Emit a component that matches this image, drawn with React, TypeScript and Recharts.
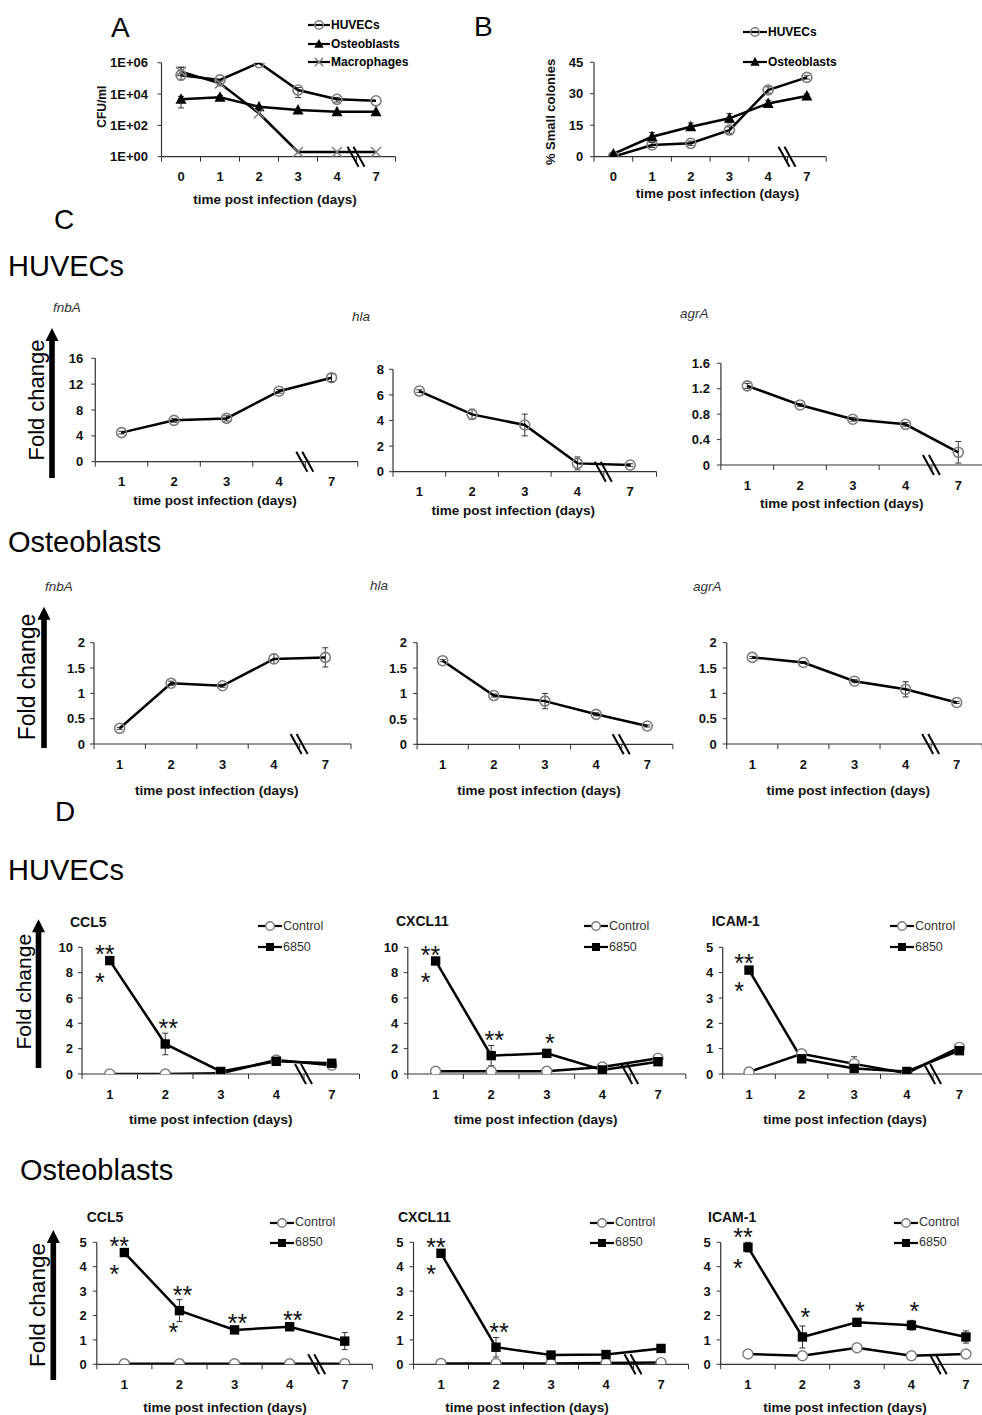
import React from 'react';
import { LineChart, Line, XAxis, YAxis, ErrorBar, Legend, LabelList } from 'recharts';

const FONT = '"Liberation Sans", Arial, Helvetica, sans-serif';
const AXIS = '#333';

// ---------------- categories ----------------
const daysAB = ['0', '1', '2', '3', '4', '7'];
const days = ['1', '2', '3', '4', '7'];

// ---------------- Panel A : CFU/ml (log) ----------------
const aHuvecs = [160000, 80000, 1000000, 18000, 4600, 3700];
const aHuvecsErr = [[80000, 350000], 0, 0, [12000, 8000], [1500, 1500], 0];
const aOsteo = [4600, 6200, 1550, 950, 750, 750];
const aOsteoErr = [[3300, 2500], [2000, 2000], 0, 0, 0, 0];
const aMacro = [270000, 48000, 590, 2, 2, 2];
const aMacroErr = [[120000, 250000], [15000, 20000], 0, 0, 0, 0];
const aTicks = [1, 100, 10000, 1000000];

// ---------------- Panel B : % small colonies ----------------
const bHuvecs = [0, 5.6, 6.4, 12.7, 31.8, 37.8];
const bHuvecsErr = [0, 1.2, 1, 1.5, 1.5, 0.8];
const bOsteo = [1.3, 9.5, 14.3, 18.3, 25.4, 28.9];
const bOsteoErr = [0.5, 2, 1.8, 2.2, 1.5, 1];
const bTicks = [0, 15, 30, 45];

// ---------------- Panel C : HUVECs ----------------
const cHuvFnbA = [4.5, 6.4, 6.7, 10.9, 13.0];
const cHuvFnbAErr = [0.2, 0.3, 0.4, 0.3, 0.6];
const cHuvHla = [6.3, 4.48, 3.65, 0.65, 0.52];
const cHuvHlaErr = [0.1, 0.4, 0.85, 0.5, 0.1];
const cHuvAgrA = [1.245, 0.945, 0.72, 0.64, 0.2];
const cHuvAgrAErr = [0.04, 0.02, 0.03, 0.03, 0.17];

// ---------------- Panel C : Osteoblasts ----------------
const cOstFnbA = [0.31, 1.2, 1.15, 1.68, 1.71];
const cOstFnbAErr = [0.02, 0.04, 0.03, 0.09, 0.19];
const cOstHla = [1.646, 0.96, 0.85, 0.59, 0.36];
const cOstHlaErr = [0.02, 0.03, 0.15, 0.03, 0.02];
const cOstAgrA = [1.71, 1.61, 1.24, 1.08, 0.82];
const cOstAgrAErr = [0.02, 0.02, 0.03, 0.15, 0.02];

// ---------------- Panel D : HUVECs ----------------
const dHuvCcl5Ctrl = [0, 0, 0.05, 1.1, 0.7];
const dHuvCcl5 = [8.95, 2.37, 0.2, 1.0, 0.85];
const dHuvCcl5Err = [0.1, 0.85, 0.1, 0.2, 0.1];
const dHuvCxcl11Ctrl = [0.22, 0.22, 0.22, 0.55, 1.25];
const dHuvCxcl11 = [8.92, 1.45, 1.63, 0.32, 0.97];
const dHuvCxcl11Err = [0.1, 0.8, 0.1, 0.1, 0.15];
const dHuvIcamCtrl = [0.08, 0.8, 0.4, 0.03, 1.05];
const dHuvIcamCtrlErr = [0, 0, 0.28, 0, 0];
const dHuvIcam = [4.1, 0.6, 0.22, 0.1, 0.92];
const dHuvIcamErr = [0.1, 0.1, 0.1, 0.05, 0.1];

// ---------------- Panel D : Osteoblasts ----------------
const dOstCcl5Ctrl = [0.02, 0.02, 0.02, 0.02, 0.02];
const dOstCcl5 = [4.58, 2.2, 1.41, 1.54, 0.95];
const dOstCcl5Err = [0.05, 0.45, 0.08, 0.08, 0.35];
const dOstCxcl11Ctrl = [0.03, 0.03, 0.03, 0.05, 0.07];
const dOstCxcl11 = [4.55, 0.7, 0.38, 0.4, 0.65];
const dOstCxcl11Err = [0.05, 0.4, 0.05, 0.05, 0.08];
const dOstIcamCtrl = [0.42, 0.35, 0.68, 0.35, 0.42];
const dOstIcam = [4.8, 1.12, 1.72, 1.6, 1.12];
const dOstIcamErr = [0.2, 0.45, 0.1, 0.2, 0.25];

// significance marks
const starsHuvCcl5Above = ['**', '**', '', '', ''];
const starsHuvCcl5Below = ['*', '', '', '', ''];
const starsHuvCxcl11Above = ['**', '**', '*', '', ''];
const starsHuvCxcl11Below = ['*', '', '', '', ''];
const starsHuvIcamAbove = ['**', '', '', '', ''];
const starsHuvIcamBelow = ['*', '', '', '', ''];
const starsOstCcl5Above = ['**', '**', '**', '**', ''];
const starsOstCcl5Below = ['*', '*', '', '', ''];
const starsOstCxcl11Above = ['**', '**', '', '', ''];
const starsOstCxcl11Below = ['*', '', '', '', ''];
const starsOstIcamAbove = ['**', '*', '*', '*', ''];
const starsOstIcamBelow = ['*', '', '', '', ''];

const ticks16 = [0, 4, 8, 12, 16];
const ticks8 = [0, 2, 4, 6, 8];
const ticks16b = [0, 0.4, 0.8, 1.2, 1.6];
const ticks2 = [0, 0.5, 1, 1.5, 2];
const ticks10 = [0, 2, 4, 6, 8, 10];
const ticks5 = [0, 1, 2, 3, 4, 5];

function rows(cats: string[], cols: Record<string, any[]>) {
  return cats.map((c, i) => {
    const r: any = { day: c };
    for (const k of Object.keys(cols)) r[k] = cols[k][i];
    return r;
  });
}

type MarkerKind = 'circle' | 'circleW' | 'triangle' | 'square' | 'cross';

function Marker({ kind, cx, cy, s = 1 }: { kind: MarkerKind; cx: number; cy: number; s?: number }) {
  if (cx == null || cy == null || isNaN(cx) || isNaN(cy)) return null;
  switch (kind) {
    case 'circle':
      return <circle cx={cx} cy={cy} r={5 * s} fill="none" stroke="#7c7c7c" strokeWidth={1.6} />;
    case 'circleW':
      return <circle cx={cx} cy={cy} r={5 * s} fill="#fff" stroke="#7c7c7c" strokeWidth={1.4} />;
    case 'triangle':
      return (
        <path
          d={`M${cx},${cy - 6 * s} L${cx + 5.5 * s},${cy + 4.5 * s} L${cx - 5.5 * s},${cy + 4.5 * s} Z`}
          fill="#000"
        />
      );
    case 'square':
      return <rect x={cx - 4.7 * s} y={cy - 4.7 * s} width={9.4 * s} height={9.4 * s} fill="#000" />;
    case 'cross':
      return (
        <g stroke="#7c7c7c" strokeWidth={1.5}>
          <line x1={cx - 5 * s} y1={cy - 5 * s} x2={cx + 5 * s} y2={cy + 5 * s} />
          <line x1={cx - 5 * s} y1={cy + 5 * s} x2={cx + 5 * s} y2={cy - 5 * s} />
        </g>
      );
  }
  return null;
}

type SeriesCfg = { key: string; err?: string; name: string; marker: MarkerKind; width?: number };

type PanelProps = {
  box: { x: number; y: number; w: number; h: number };
  px: number;
  py: number;
  band: number;
  ph: number;
  cats: string[];
  data: any[];
  series: SeriesCfg[];
  yDomain: [number, number];
  yTicks: number[];
  yLog?: boolean;
  yFmt?: (v: number) => string;
  tickGap: number;
  xLabel: { x: number; y: number };
  breakIdx: number;
  title?: { text: string; x: number; y: number; size: number; italic?: boolean; bold?: boolean };
  yLabel?: { text: string; x: number; y: number; size: number };
  fold?: { ax: number; top: number; bottom: number; tx: number; ty: number; size: number };
  legend?: { x: number; y: number; gap: number; bold: boolean; size: number; lineW: number; color: string };
  stars?: { key: string; err: string; above: string[]; below: string[] };
};

function Panel(p: PanelProps) {
  const { box, px, py, band, ph, cats } = p;
  const n = cats.length;
  const yAxisW = px - box.x;
  const top = py - box.y;
  const xAxisH = box.y + box.h - (py + ph);
  const right = box.x + box.w - (px + n * band);
  const X = (v: number) => v - box.x;
  const Y = (v: number) => v - box.y;
  const ppu = ph / (p.yDomain[1] - p.yDomain[0]);

  const xTick = (t: any) => {
    const { x, y, payload, index } = t;
    const isLast = index === n - 1 || (payload && payload.value === cats[n - 1]);
    return (
      <g>
        <line x1={x - band / 2} x2={x - band / 2} y1={y} y2={y + 5} stroke={AXIS} strokeWidth={1} />
        {isLast ? <line x1={x + band / 2} x2={x + band / 2} y1={y} y2={y + 5} stroke={AXIS} strokeWidth={1} /> : null}
        <text
          x={x}
          y={y + 20}
          textAnchor="middle"
          dominantBaseline="central"
          fontFamily={FONT}
          fontSize={13}
          fontWeight="bold"
          fill="#111"
        >
          {payload.value}
        </text>
      </g>
    );
  };

  const bx = X(px + p.breakIdx * band);
  const by = Y(py + ph);

  const xDeco = () => (
    <g>
      <text
        x={X(p.xLabel.x)}
        y={Y(p.xLabel.y)}
        textAnchor="middle"
        dominantBaseline="central"
        fontFamily={FONT}
        fontSize={13.5}
        fontWeight="bold"
        fill="#111"
      >
        time post infection (days)
      </text>
      <g stroke="#000" strokeWidth={2}>
        <line x1={bx - 9} y1={by - 10} x2={bx + 2} y2={by + 10} />
        <line x1={bx - 3} y1={by - 10} x2={bx + 8} y2={by + 10} />
      </g>
    </g>
  );

  const yDeco = () => (
    <g>
      {p.title ? (
        <text
          x={X(p.title.x)}
          y={Y(p.title.y)}
          dominantBaseline="central"
          fontFamily={FONT}
          fontSize={p.title.size}
          fontStyle={p.title.italic ? 'italic' : 'normal'}
          fontWeight={p.title.bold ? 'bold' : 'normal'}
          fill={p.title.italic ? '#333' : '#111'}
        >
          {p.title.text}
        </text>
      ) : null}
      {p.yLabel ? (
        <text
          transform={`translate(${X(p.yLabel.x)},${Y(p.yLabel.y)}) rotate(-90)`}
          textAnchor="middle"
          dominantBaseline="central"
          fontFamily={FONT}
          fontSize={p.yLabel.size}
          fontWeight="bold"
          fill="#111"
        >
          {p.yLabel.text}
        </text>
      ) : null}
      {p.fold ? (
        <g>
          <rect
            x={X(p.fold.ax) - 2.8}
            y={Y(p.fold.top) + 10}
            width={5.6}
            height={p.fold.bottom - p.fold.top - 10}
            fill="#000"
          />
          <path
            d={`M${X(p.fold.ax)},${Y(p.fold.top)} L${X(p.fold.ax) + 6.5},${Y(p.fold.top) + 13} L${X(p.fold.ax) - 6.5},${Y(p.fold.top) + 13} Z`}
            fill="#000"
          />
          <text
            transform={`translate(${X(p.fold.tx)},${Y(p.fold.ty)}) rotate(-90)`}
            textAnchor="middle"
            dominantBaseline="central"
            fontFamily={FONT}
            fontSize={p.fold.size}
            fill="#000"
          >
            Fold change
          </text>
        </g>
      ) : null}
    </g>
  );

  const lg = p.legend;
  const legendContent = () =>
    lg ? (
      <div
        style={{
          fontFamily: FONT,
          fontSize: lg.size,
          fontWeight: lg.bold ? 'bold' : 'normal',
          color: lg.color,
        }}
      >
        {p.series.map((s) => (
          <div
            key={s.key}
            style={{ display: 'flex', alignItems: 'center', height: lg.gap, whiteSpace: 'nowrap', lineHeight: 1 }}
          >
            <svg width={lg.lineW} height={14} style={{ display: 'block' }}>
              <line x1={0} x2={lg.lineW} y1={7} y2={7} stroke="#000" strokeWidth={2.2} />
              <Marker kind={s.marker} cx={lg.lineW / 2} cy={7} s={0.85} />
            </svg>
            <span style={{ marginLeft: 1 }}>{s.name}</span>
          </div>
        ))}
      </div>
    ) : null;

  const starContent = (lp: any) => {
    const st = p.stars!;
    const i = lp.index;
    const cx = lp.x;
    const cy = lp.y;
    if (cx == null || cy == null) return null;
    const a = st.above[i];
    const b = st.below[i];
    const err = (p.data[i] && p.data[i][st.err]) || 0;
    const els: any[] = [];
    if (a) {
      const dx = i === 0 ? -5 : 3;
      const cyA = cy - err * ppu - (a.length > 1 ? 10 : 14);
      els.push(
        <text
          key="a"
          x={cx + dx}
          y={cyA + 14}
          textAnchor="middle"
          fontFamily={FONT}
          fontSize={25}
          fill="#111"
        >
          {a}
        </text>
      );
    }
    if (b) {
      const dx = i === 0 ? -10 : -6;
      els.push(
        <text
          key="b"
          x={cx + dx}
          y={cy + 16 + 14}
          textAnchor="middle"
          fontFamily={FONT}
          fontSize={25}
          fill="#111"
        >
          {b}
        </text>
      );
    }
    return <g key={`st-${i}`}>{els}</g>;
  };

  return (
    <div style={{ position: 'absolute', left: box.x, top: box.y, width: box.w, height: box.h }}>
      <LineChart
        width={box.w}
        height={box.h}
        data={p.data}
        margin={{ top, right, bottom: 0, left: 0 }}
        style={{ fontFamily: FONT }}
      >
        <XAxis
          dataKey="day"
          type="category"
          scale="point"
          padding={{ left: band / 2, right: band / 2 }}
          height={xAxisH}
          interval={0}
          tickLine={false}
          tickSize={0}
          tickMargin={0}
          tick={xTick}
          axisLine={{ stroke: AXIS, strokeWidth: 1.2 }}
          label={xDeco}
        />
        <YAxis
          type="number"
          scale={p.yLog ? 'log' : 'linear'}
          domain={p.yDomain}
          ticks={p.yTicks}
          interval={0}
          allowDataOverflow
          width={yAxisW}
          tickSize={4}
          tickMargin={p.tickGap}
          tickFormatter={p.yFmt}
          tick={{ fill: '#111', fontSize: 13, fontWeight: 'bold', fontFamily: FONT }}
          tickLine={{ stroke: AXIS, strokeWidth: 1 }}
          axisLine={{ stroke: AXIS, strokeWidth: 1.2 }}
          label={yDeco}
        />
        {lg ? (
          <Legend
            layout="vertical"
            align="center"
            verticalAlign="middle"
            content={legendContent}
            wrapperStyle={{ left: X(lg.x), top: Y(lg.y) - lg.gap / 2, width: 'auto', margin: 0, padding: 0 }}
          />
        ) : null}
        {p.series.map((s) => (
          <Line
            key={s.key}
            dataKey={s.key}
            name={s.name}
            type="linear"
            stroke="#000"
            strokeWidth={s.width ?? 2.5}
            isAnimationActive={false}
            activeDot={false}
            dot={(d: any) => <Marker key={`${s.key}-${d.index}`} kind={s.marker} cx={d.cx} cy={d.cy} />}
          >
            {s.err ? <ErrorBar dataKey={s.err} width={3} strokeWidth={1} stroke="#333" direction="y" /> : null}
            {p.stars && p.stars.key === s.key ? <LabelList dataKey={s.key} content={starContent} /> : null}
          </Line>
        ))}
      </LineChart>
    </div>
  );
}

const logFmt = (v: number) => {
  const e = Math.round(Math.log10(v));
  return `1E+${String(e).padStart(2, '0')}`;
};

const cSeries: SeriesCfg[] = [{ key: 'v', err: 'e', name: 'value', marker: 'circle' }];
const dSeries: SeriesCfg[] = [
  { key: 'ctrl', err: 'ce', name: 'Control', marker: 'circleW' },
  { key: 'inf', err: 'ie', name: '6850', marker: 'square' },
];

const headers = [
  { t: 'A', x: 111, y: 36.5, s: 28 },
  { t: 'B', x: 474, y: 35.5, s: 28 },
  { t: 'C', x: 54, y: 229, s: 28 },
  { t: 'HUVECs', x: 8, y: 276, s: 29 },
  { t: 'Osteoblasts', x: 8, y: 552, s: 29 },
  { t: 'D', x: 55, y: 821, s: 28 },
  { t: 'HUVECs', x: 8, y: 880, s: 29 },
  { t: 'Osteoblasts', x: 20, y: 1180, s: 29 },
];

const dLegend = (x: number, y: number) => ({ x, y, gap: 21, bold: false, size: 12.5, lineW: 24, color: '#333' });

export default function App() {
  const aData = rows(daysAB, {
    h: aHuvecs,
    he: aHuvecsErr,
    o: aOsteo,
    oe: aOsteoErr,
    m: aMacro,
    me: aMacroErr,
  });
  const bData = rows(daysAB, { h: bHuvecs, he: bHuvecsErr, o: bOsteo, oe: bOsteoErr });

  return (
    <div
      style={{
        position: 'absolute',
        left: 0,
        top: 0,
        width: 982,
        height: 1415,
        overflow: 'hidden',
        background: '#fff',
        fontFamily: FONT,
      }}
    >
      <svg width={982} height={1415} style={{ position: 'absolute', left: 0, top: 0 }}>
        {headers.map((h, i) => (
          <text key={i} x={h.x} y={h.y} fontFamily={FONT} fontSize={h.s} fill="#000">
            {h.t}
          </text>
        ))}
      </svg>

      {/* Panel A */}
      <Panel
        box={{ x: 85, y: 8, w: 345, h: 205 }}
        px={161.5}
        py={62.7}
        band={39}
        ph={94}
        cats={daysAB}
        data={aData}
        series={[
          { key: 'h', err: 'he', name: 'HUVECs', marker: 'circle' },
          { key: 'o', err: 'oe', name: 'Osteoblasts', marker: 'triangle' },
          { key: 'm', err: 'me', name: 'Macrophages', marker: 'cross' },
        ]}
        yDomain={[1, 1000000]}
        yTicks={aTicks}
        yLog
        yFmt={logFmt}
        tickGap={9.5}
        xLabel={{ x: 275, y: 199 }}
        breakIdx={5}
        yLabel={{ text: 'CFU/ml', x: 101.7, y: 106.7, size: 12 }}
        legend={{ x: 308, y: 25, gap: 18.5, bold: true, size: 12, lineW: 22, color: '#000' }}
      />

      {/* Panel B */}
      <Panel
        box={{ x: 530, y: 8, w: 320, h: 205 }}
        px={594}
        py={62.3}
        band={38.7}
        ph={94.4}
        cats={daysAB}
        data={bData}
        series={[
          { key: 'h', err: 'he', name: 'HUVECs', marker: 'circle' },
          { key: 'o', err: 'oe', name: 'Osteoblasts', marker: 'triangle' },
        ]}
        yDomain={[0, 45]}
        yTicks={bTicks}
        tickGap={6.7}
        xLabel={{ x: 717.5, y: 193.3 }}
        breakIdx={5}
        yLabel={{ text: '% Small colonies', x: 550, y: 112, size: 13 }}
        legend={{ x: 743, y: 32.3, gap: 29.4, bold: true, size: 12, lineW: 24, color: '#000' }}
      />

      {/* Panel C HUVECs */}
      <Panel
        box={{ x: 2, y: 295, w: 363, h: 225 }}
        px={95.3}
        py={358.3}
        band={52.5}
        ph={103.4}
        cats={days}
        data={rows(days, { v: cHuvFnbA, e: cHuvFnbAErr })}
        series={cSeries}
        yDomain={[0, 16]}
        yTicks={ticks16}
        tickGap={8}
        xLabel={{ x: 215, y: 500 }}
        breakIdx={4}
        title={{ text: 'fnbA', x: 53, y: 307.5, size: 13.5, italic: true }}
        fold={{ ax: 52, top: 328, bottom: 478, tx: 36, ty: 400, size: 22 }}
      />
      <Panel
        box={{ x: 345, y: 300, w: 320, h: 225 }}
        px={393}
        py={369.3}
        band={52.7}
        ph={102.4}
        cats={days}
        data={rows(days, { v: cHuvHla, e: cHuvHlaErr })}
        series={cSeries}
        yDomain={[0, 8]}
        yTicks={ticks8}
        tickGap={5}
        xLabel={{ x: 513.3, y: 510 }}
        breakIdx={4}
        title={{ text: 'hla', x: 352, y: 316.7, size: 13.5, italic: true }}
      />
      <Panel
        box={{ x: 670, y: 300, w: 316, h: 220 }}
        px={720.9}
        py={363.3}
        band={52.75}
        ph={101.7}
        cats={days}
        data={rows(days, { v: cHuvAgrA, e: cHuvAgrAErr })}
        series={cSeries}
        yDomain={[0, 1.6]}
        yTicks={ticks16b}
        tickGap={7}
        xLabel={{ x: 841.7, y: 503.3 }}
        breakIdx={4}
        title={{ text: 'agrA', x: 680, y: 313, size: 13.5, italic: true }}
      />

      {/* Panel C Osteoblasts */}
      <Panel
        box={{ x: 2, y: 575, w: 360, h: 230 }}
        px={94}
        py={642.7}
        band={51.4}
        ph={101.3}
        cats={days}
        data={rows(days, { v: cOstFnbA, e: cOstFnbAErr })}
        series={cSeries}
        yDomain={[0, 2]}
        yTicks={ticks2}
        tickGap={5}
        xLabel={{ x: 216.7, y: 790.7 }}
        breakIdx={4}
        title={{ text: 'fnbA', x: 45, y: 586.7, size: 13.5, italic: true }}
        fold={{ ax: 44, top: 606.7, bottom: 748, tx: 27, ty: 677, size: 23 }}
      />
      <Panel
        box={{ x: 350, y: 575, w: 330, h: 230 }}
        px={417.1}
        py={642.7}
        band={51.15}
        ph={101.6}
        cats={days}
        data={rows(days, { v: cOstHla, e: cOstHlaErr })}
        series={cSeries}
        yDomain={[0, 2]}
        yTicks={ticks2}
        tickGap={6}
        xLabel={{ x: 539, y: 790 }}
        breakIdx={4}
        title={{ text: 'hla', x: 370, y: 585, size: 13.5, italic: true }}
      />
      <Panel
        box={{ x: 680, y: 575, w: 303, h: 230 }}
        px={726.75}
        py={642.7}
        band={51.1}
        ph={101.3}
        cats={days}
        data={rows(days, { v: cOstAgrA, e: cOstAgrAErr })}
        series={cSeries}
        yDomain={[0, 2]}
        yTicks={ticks2}
        tickGap={6}
        xLabel={{ x: 848.3, y: 790 }}
        breakIdx={4}
        title={{ text: 'agrA', x: 693, y: 586, size: 13.5, italic: true }}
      />

      {/* Panel D HUVECs */}
      <Panel
        box={{ x: 2, y: 905, w: 360, h: 230 }}
        px={82}
        py={947.3}
        band={55.5}
        ph={126.7}
        cats={days}
        data={rows(days, { ctrl: dHuvCcl5Ctrl, inf: dHuvCcl5, ie: dHuvCcl5Err })}
        series={dSeries}
        yDomain={[0, 10]}
        yTicks={ticks10}
        tickGap={5}
        xLabel={{ x: 210.7, y: 1119.3 }}
        breakIdx={4}
        title={{ text: 'CCL5', x: 70, y: 922, size: 14, bold: true }}
        legend={dLegend(258, 926)}
        fold={{ ax: 38.5, top: 919.3, bottom: 1068, tx: 23, ty: 991.7, size: 21 }}
        stars={{ key: 'inf', err: 'ie', above: starsHuvCcl5Above, below: starsHuvCcl5Below }}
      />
      <Panel
        box={{ x: 370, y: 905, w: 320, h: 230 }}
        px={407.8}
        py={947.3}
        band={55.6}
        ph={126.7}
        cats={days}
        data={rows(days, { ctrl: dHuvCxcl11Ctrl, inf: dHuvCxcl11, ie: dHuvCxcl11Err })}
        series={dSeries}
        yDomain={[0, 10]}
        yTicks={ticks10}
        tickGap={5.5}
        xLabel={{ x: 535.7, y: 1119.3 }}
        breakIdx={4}
        title={{ text: 'CXCL11', x: 396, y: 920.7, size: 14, bold: true }}
        legend={dLegend(584, 926)}
        stars={{ key: 'inf', err: 'ie', above: starsHuvCxcl11Above, below: starsHuvCxcl11Below }}
      />
      <Panel
        box={{ x: 690, y: 905, w: 296, h: 230 }}
        px={722.7}
        py={947.3}
        band={52.6}
        ph={126.7}
        cats={days}
        data={rows(days, { ctrl: dHuvIcamCtrl, ce: dHuvIcamCtrlErr, inf: dHuvIcam, ie: dHuvIcamErr })}
        series={dSeries}
        yDomain={[0, 5]}
        yTicks={ticks5}
        tickGap={5.4}
        xLabel={{ x: 845, y: 1119.3 }}
        breakIdx={4}
        title={{ text: 'ICAM-1', x: 711.7, y: 920.7, size: 14, bold: true }}
        legend={dLegend(890, 926)}
        stars={{ key: 'inf', err: 'ie', above: starsHuvIcamAbove, below: starsHuvIcamBelow }}
      />

      {/* Panel D Osteoblasts */}
      <Panel
        box={{ x: 2, y: 1200, w: 372, h: 215 }}
        px={96.8}
        py={1242.3}
        band={55.1}
        ph={122}
        cats={days}
        data={rows(days, { ctrl: dOstCcl5Ctrl, inf: dOstCcl5, ie: dOstCcl5Err })}
        series={dSeries}
        yDomain={[0, 5]}
        yTicks={ticks5}
        tickGap={6}
        xLabel={{ x: 225, y: 1407.3 }}
        breakIdx={4}
        title={{ text: 'CCL5', x: 86.7, y: 1216.7, size: 14, bold: true }}
        legend={{ ...dLegend(270, 1222.7), gap: 20 }}
        fold={{ ax: 53.3, top: 1230, bottom: 1380, tx: 37, ty: 1305, size: 22.5 }}
        stars={{ key: 'inf', err: 'ie', above: starsOstCcl5Above, below: starsOstCcl5Below }}
      />
      <Panel
        box={{ x: 380, y: 1200, w: 310, h: 215 }}
        px={413.5}
        py={1242.3}
        band={55}
        ph={122}
        cats={days}
        data={rows(days, { ctrl: dOstCxcl11Ctrl, inf: dOstCxcl11, ie: dOstCxcl11Err })}
        series={dSeries}
        yDomain={[0, 5]}
        yTicks={ticks5}
        tickGap={6}
        xLabel={{ x: 527, y: 1407 }}
        breakIdx={4}
        title={{ text: 'CXCL11', x: 398, y: 1217, size: 14, bold: true }}
        legend={{ ...dLegend(590, 1222.7), gap: 20 }}
        stars={{ key: 'inf', err: 'ie', above: starsOstCxcl11Above, below: starsOstCxcl11Below }}
      />
      <Panel
        box={{ x: 690, y: 1200, w: 305, h: 215 }}
        px={720.7}
        py={1242.3}
        band={54.5}
        ph={122}
        cats={days}
        data={rows(days, { ctrl: dOstIcamCtrl, inf: dOstIcam, ie: dOstIcamErr })}
        series={dSeries}
        yDomain={[0, 5]}
        yTicks={ticks5}
        tickGap={6}
        xLabel={{ x: 845, y: 1407 }}
        breakIdx={4}
        title={{ text: 'ICAM-1', x: 708, y: 1217, size: 14, bold: true }}
        legend={{ ...dLegend(894, 1222.7), gap: 20 }}
        stars={{ key: 'inf', err: 'ie', above: starsOstIcamAbove, below: starsOstIcamBelow }}
      />
    </div>
  );
}
